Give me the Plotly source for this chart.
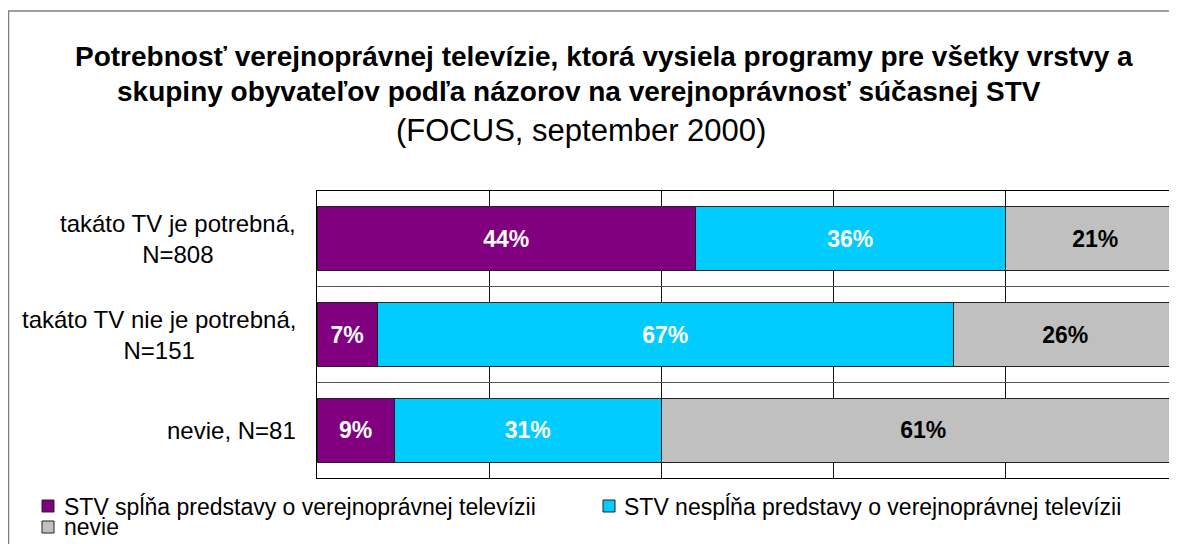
import plotly.graph_objects as go

categories = ["takáto TV je potrebná,<br>N=808", "takáto TV nie je potrebná,<br>N=151", "nevie, N=81"]
spln = [44, 7, 9]
nespln = [36, 67, 31]
nevie = [21, 26, 61]
series_names = ["STV spĺňa predstavy o verejnoprávnej televízii",
                "STV nespĺňa predstavy o verejnoprávnej televízii",
                "nevie"]
colors = ["#800080", "#00CCFF", "#C0C0C0"]
title_lines = ["<b>Potrebnosť verejnoprávnej televízie, ktorá vysiela programy pre všetky vrstvy a</b>",
               "<b>skupiny obyvateľov podľa názorov na verejnoprávnosť súčasnej STV</b>",
               "(FOCUS, september 2000)"]

FONT = "Liberation Sans, Arial, sans-serif"

# page has an 8px body margin; layout measured in page pixels
OFF = 8
W, H = 1161, 536
L, T, B = 309, 183, 66
PW, PH = W - L, H - T - B
X_MAX = PW / 8.6   # 20 % per 172 px, plot runs off the right edge


def px(x):
    return (x - OFF - L) / PW


def py(y):
    return (H - B - (y - OFF)) / PH


fig = go.Figure()
for vals, name, color, tcol in zip([spln, nespln, nevie], series_names, colors,
                                   ["white", "white", "black"]):
    fig.add_trace(go.Bar(
        y=categories, x=vals, name=name, orientation="h",
        marker=dict(color=color, line=dict(color="#222222", width=1)),
        text=[f"{v}%" for v in vals], textposition="inside",
        insidetextanchor="middle",
        textfont=dict(family=FONT, size=23, color=tcol, weight="bold"),
        width=0.67, showlegend=False,
    ))

# category labels, centered lines
for c in categories:
    fig.add_annotation(
        x=px(298), xref="paper", y=c, yref="y", text=c, showarrow=False,
        xanchor="right", align="center",
        font=dict(family=FONT, size=24, color="black"),
    )

# chart title
for txt, cx, cy, fs in zip(title_lines, [604, 579, 581], [56, 92, 130], [28, 28, 31]):
    fig.add_annotation(
        x=px(cx), xref="paper", y=py(cy), yref="paper", showarrow=False,
        text=txt, xanchor="center", yanchor="middle",
        font=dict(family=FONT, size=fs, color="black"),
    )

# legend
for name, color, (sx, sy), tx in zip(series_names, colors,
                                     [(42, 500), (603, 500), (42, 521)],
                                     [62, 622, 62]):
    fig.add_shape(type="rect", xref="paper", yref="paper",
                  x0=px(sx), x1=px(sx + 12), y0=py(sy), y1=py(sy + 12),
                  line=dict(color="#222222", width=1), fillcolor=color)
    fig.add_annotation(
        x=px(tx), xref="paper", y=py(sy + 6), yref="paper", showarrow=False,
        text=name, xanchor="left", yanchor="middle",
        font=dict(family=FONT, size=23, color="black"),
    )

fig.update_layout(
    barmode="stack",
    width=W, height=H,
    paper_bgcolor="white", plot_bgcolor="white",
    margin=dict(l=L, r=0, t=T, b=B, autoexpand=False),
    showlegend=False,
    xaxis=dict(range=[0, X_MAX], showticklabels=False, showgrid=True, gridcolor="#111111",
               gridwidth=1, tick0=0, dtick=20, zeroline=False, showline=True,
               linecolor="#000000", mirror=True, ticks=""),
    yaxis=dict(type="category", autorange="reversed", showticklabels=False,
               tickson="boundaries", showgrid=True, gridcolor="#555555",
               showline=True, linecolor="#000000", mirror=False, ticks=""),
)

# outer chart border
fig.add_shape(type="rect", xref="paper", yref="paper",
              x0=px(8.5), x1=px(1300), y0=py(700), y1=py(11),
              line=dict(color="#808080", width=1.5), fillcolor="rgba(0,0,0,0)", layer="below")

fig.write_html("out.html")
